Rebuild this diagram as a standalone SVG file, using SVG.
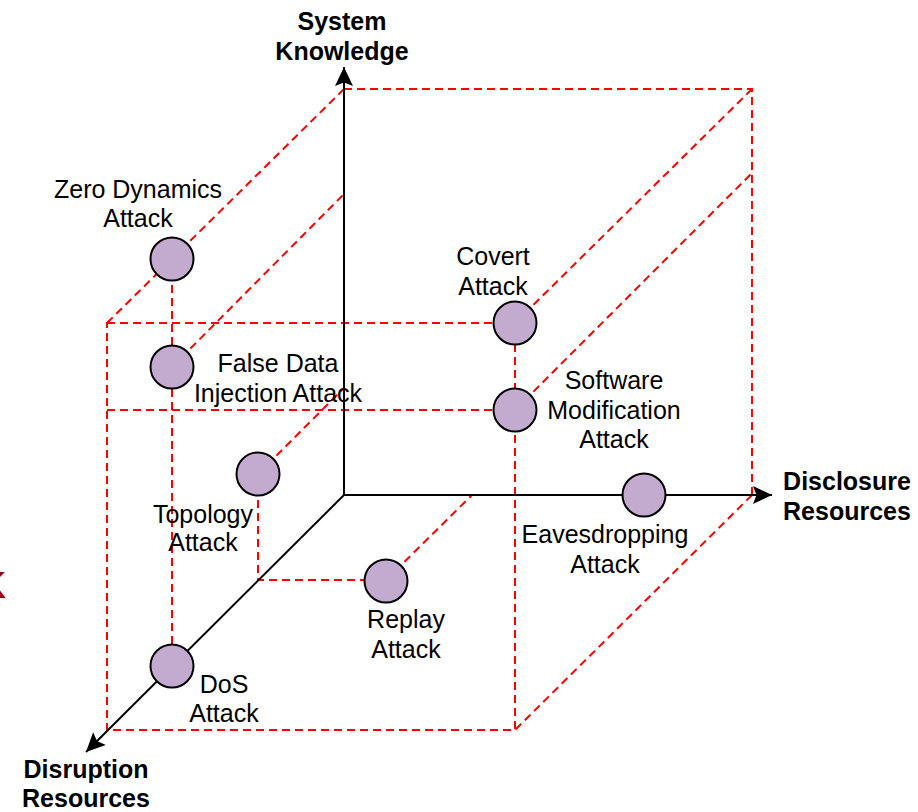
<svg xmlns="http://www.w3.org/2000/svg" width="918" height="812" viewBox="0 0 918 812">
  <style>
    .axis { stroke: #000; stroke-width: 2; fill: none; }
    .guide { stroke: #ff0000; stroke-width: 2; stroke-dasharray: 8 5; fill: none; }
    .node { fill: #c3aacf; stroke: #000; stroke-width: 2; }
    .lbl { font-family: "Liberation Sans", Arial, Helvetica, sans-serif; font-size: 25px; fill: #000; text-anchor: middle; }
    .ax { font-weight: bold; }
  </style>
  <defs>
    <marker id="arrow" viewBox="-21 -10 22 20" refX="0" refY="0" markerWidth="22" markerHeight="20" orient="auto" markerUnits="userSpaceOnUse">
      <path d="M0,0 L-19,-9 L-15.5,0 L-19,9 Z" fill="#000"/>
    </marker>
  </defs>

  <rect width="918" height="812" fill="#fff"/>

  <!-- partly cut-off mark at the left edge -->
  <text x="6" y="598" font-family="Liberation Sans, Arial, sans-serif" font-size="36" font-weight="bold" fill="#a00000" text-anchor="end">K</text>

  <g id="connectors">
    <!-- cube: back face -->
    <path class="guide" d="M344,89 L752,89 L752,495"/>
    <!-- cube: receding edges -->
    <path class="guide" d="M344,89 L107,323"/>
    <path class="guide" d="M752,89 L515,323"/>
    <path class="guide" d="M752,495 L515,730"/>
    <!-- cube: front face -->
    <path class="guide" d="M107,323 L515,323 L515,730 L107,730 Z"/>
    <!-- projection lines -->
    <path class="guide" d="M172,259 L172,666"/>
    <path class="guide" d="M107,410 L515,410"/>
    <path class="guide" d="M172,367 L344,194"/>
    <path class="guide" d="M515,410 L752,173"/>
    <path class="guide" d="M258,474 L344,388"/>
    <path class="guide" d="M258,474 L258,580 L386,580"/>
    <path class="guide" d="M386,580 L472,495"/>

    <!-- axes -->
    <line class="axis" x1="344" y1="495" x2="344" y2="67" marker-end="url(#arrow)"/>
    <line class="axis" x1="344" y1="495" x2="772" y2="495" marker-end="url(#arrow)"/>
    <line class="axis" x1="344" y1="495" x2="86" y2="752" marker-end="url(#arrow)"/>
  </g>

  <!-- axis titles -->
  <g id="axis-knowledge">
    <text class="lbl ax" x="342" y="30">System</text>
    <text class="lbl ax" x="342" y="60">Knowledge</text>
  </g>
  <g id="axis-disclosure">
    <text class="lbl ax" x="847" y="490">Disclosure</text>
    <text class="lbl ax" x="847" y="520">Resources</text>
  </g>
  <g id="axis-disruption">
    <text class="lbl ax" x="86" y="778">Disruption</text>
    <text class="lbl ax" x="86" y="807">Resources</text>
  </g>

  <!-- attacks -->
  <g id="zero-dynamics">
    <circle class="node" cx="172" cy="259" r="21.5"/>
    <text class="lbl" x="138" y="198">Zero Dynamics</text>
    <text class="lbl" x="138" y="227">Attack</text>
  </g>
  <g id="false-data-injection">
    <circle class="node" cx="172" cy="367" r="21.5"/>
    <text class="lbl" x="278" y="372">False Data</text>
    <text class="lbl" x="278" y="402">Injection Attack</text>
  </g>
  <g id="topology">
    <circle class="node" cx="258" cy="474" r="21.5"/>
    <text class="lbl" x="203" y="523">Topology</text>
    <text class="lbl" x="203" y="551">Attack</text>
  </g>
  <g id="dos">
    <circle class="node" cx="172" cy="666" r="21.5"/>
    <text class="lbl" x="224" y="693">DoS</text>
    <text class="lbl" x="224" y="722">Attack</text>
  </g>
  <g id="replay">
    <circle class="node" cx="386" cy="581" r="21.5"/>
    <text class="lbl" x="406" y="628">Replay</text>
    <text class="lbl" x="406" y="658">Attack</text>
  </g>
  <g id="covert">
    <circle class="node" cx="515" cy="323" r="21.5"/>
    <text class="lbl" x="493" y="265">Covert</text>
    <text class="lbl" x="493" y="295">Attack</text>
  </g>
  <g id="software-modification">
    <circle class="node" cx="515" cy="410" r="21.5"/>
    <text class="lbl" x="614" y="389">Software</text>
    <text class="lbl" x="614" y="419">Modification</text>
    <text class="lbl" x="614" y="448">Attack</text>
  </g>
  <g id="eavesdropping">
    <circle class="node" cx="644" cy="495" r="21.5"/>
    <text class="lbl" x="605" y="543">Eavesdropping</text>
    <text class="lbl" x="605" y="573">Attack</text>
  </g>
</svg>
